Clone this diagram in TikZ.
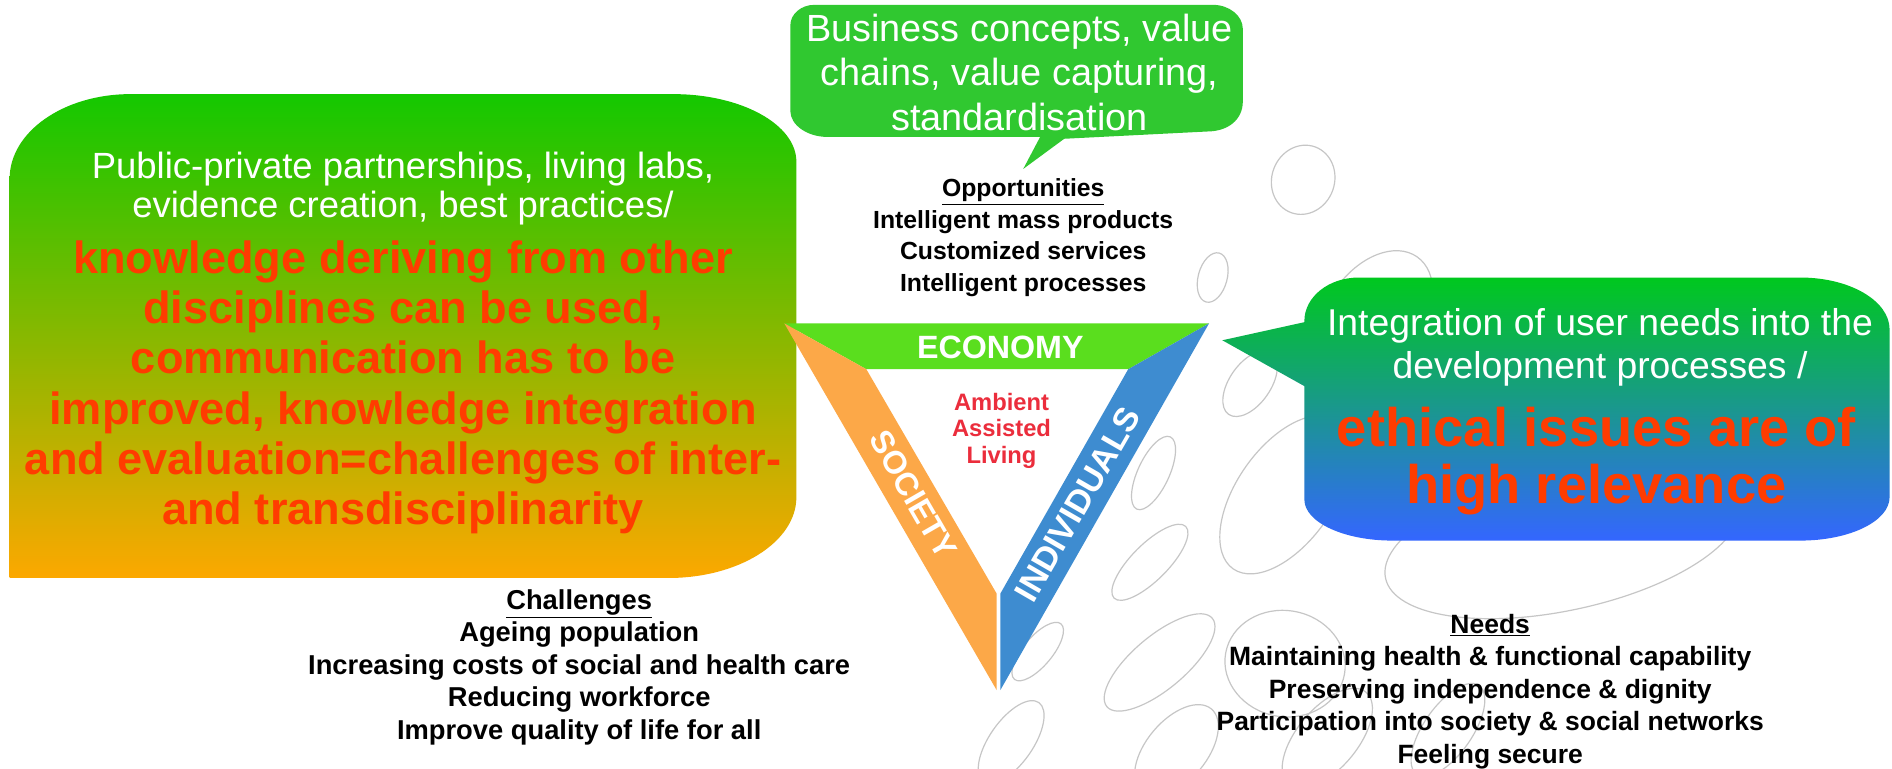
\documentclass[tikz,border=0pt]{standalone}
\usepackage{fontspec}
\setmainfont{Liberation Sans}
\definecolor{redtxt}{RGB}{255,60,0}
\definecolor{bubgrey}{RGB}{198,198,198}
\definecolor{lgTop}{RGB}{20,200,0}
\definecolor{lgMid}{RGB}{155,190,0}
\definecolor{lgBot}{RGB}{252,168,0}
\definecolor{rgTop}{RGB}{0,200,30}
\definecolor{rgMid}{RGB}{30,172,150}
\definecolor{rgBot}{RGB}{52,102,255}
\definecolor{topgreen}{RGB}{48,200,48}
\definecolor{econ}{RGB}{90,222,30}
\definecolor{soc}{RGB}{252,168,72}
\definecolor{indiv}{RGB}{62,140,208}
\definecolor{aal}{RGB}{235,45,60}
\begin{document}
\begin{tikzpicture}[x=0.025cm,y=-0.025cm,
  bub/.style={draw=bubgrey, line width=0.7pt},
  wtxt/.style={text=white, align=center, inner sep=0pt},
  rtxt/.style={text=redtxt, align=center, inner sep=0pt},
  btxt/.style={text=black, align=center, inner sep=0pt},
  bandlabel/.style={text=white, inner sep=0pt, font=\bfseries\fontsize{19}{19}\selectfont}]
\useasboundingbox (0,0) rectangle (1568,636.5);
\fill[white] (0,0) rectangle (1568,636.5);

% background bubbles
\foreach \cx/\cy/\rx/\ry/\rot in {
 1080/149/26/29/-20, 1005/230/12/21/-15, 1140/262/40/60/-35, 1036/318/17/31/-35,
 956/392/13/33/-25, 1065/410/40/75/-35, 953/466/15/42/-45, 860/540/12/30/-40,
 961/549/22/57/-50, 1065/550/50/44/-10, 1295/448/150/58/12,
 838/615/18/40/-35, 975/622/25/45/-40, 1100/612/25/50/-40, 1200/605/20/45/-35}
 \draw[bub, rotate around={\rot:(\cx,\cy)}] (\cx,\cy) ellipse [x radius=\rx, y radius=\ry];

% left callout
\shade[top color=lgTop, middle color=lgMid, bottom color=lgBot]
 (8,148) .. controls (8,109.3) and (52.8,78) .. (108,78)
 -- (558,78) .. controls (614.3,78) and (660,103.1) .. (660,134)
 -- (660,412) .. controls (660,449) and (612.5,479) .. (554,479)
 -- (8,479) -- cycle;
\node[wtxt, font=\fontsize{21.5}{23}\selectfont] (lw) at (334,156)
 {Public-private partnerships, living labs,\\evidence creation, best practices/};
\node[rtxt, font=\bfseries\fontsize{26.6}{29.6}\selectfont] (lr) at (334,321)
 {knowledge deriving from other\\disciplines can be used,\\communication has to be\\improved, knowledge integration\\and evaluation=challenges of inter-\\and transdisciplinarity};

% top callout
\fill[topgreen]
 (655,21) .. controls (655,11.6) and (664,4) .. (675,4)
 -- (1005,4) .. controls (1018.8,4) and (1030,13) .. (1030,24)
 -- (1030,84) .. controls (1030,99) and (1018,109) .. (1000,109)
 -- (882,115) -- (848,140) -- (862,113.5)
 -- (686,113.5) .. controls (668.9,113.5) and (655,103.5) .. (655,92) -- cycle;
\node[wtxt, font=\fontsize{22.3}{26}\selectfont] (tc) at (845,60)
 {Business concepts, value\\chains, value capturing,\\standardisation};

% opportunities
\node[btxt, font=\bfseries\fontsize{14.6}{18.5}\selectfont] (opp) at (848,197)
 {\underline{Opportunities}\\Intelligent mass products\\Customized services\\Intelligent processes};

% triangle
\fill[econ] (650,268) -- (1002,268) -- (935,306) -- (718,306) -- cycle;
\fill[soc] (650,268) -- (718,306) -- (826,492) -- (826,572) -- cycle;
\fill[indiv] (1002,268) -- (935,306) -- (829,492) -- (829,572) -- cycle;
\node[bandlabel] (eco) at (829,288) {ECONOMY};
\node[bandlabel, rotate=-60] (socl) at (757,410) {SOCIETY};
\node[bandlabel, rotate=60, font=\bfseries\fontsize{20}{20}\selectfont] (indl) at (893,418) {INDIVIDUALS};
\node[text=aal, align=center, inner sep=0pt, font=\bfseries\fontsize{14}{15.6}\selectfont] (aalt) at (830,357)
 {Ambient\\Assisted\\Living};

% right callout
\shade[top color=rgTop, middle color=rgMid, bottom color=rgBot]
 (1081,267) -- (1013,282) -- (1081,320)
 -- (1081,414) .. controls (1081,432.8) and (1113.7,448) .. (1154,448)
 -- (1492,448) .. controls (1533,448) and (1566,431.9) .. (1566,412)
 -- (1566,273) .. controls (1566,249.3) and (1533,230) .. (1492,230)
 -- (1126,230) .. controls (1101.1,230) and (1081,246.1) .. (1081,266) -- cycle;
\node[wtxt, font=\fontsize{22}{25.6}\selectfont] (rw) at (1326,288)
 {Integration of user needs into the\\development processes /};
\node[rtxt, font=\bfseries\fontsize{32}{33.4}\selectfont] (rr) at (1323,382)
 {ethical issues are of\\high relevance};

% challenges and needs
\node[btxt, font=\bfseries\fontsize{16.1}{19.2}\selectfont] (chal) at (480,553)
 {\underline{Challenges}\\Ageing population\\Increasing costs of social and health care\\Reducing workforce\\Improve quality of life for all};
\node[btxt, font=\bfseries\fontsize{15.6}{19.2}\selectfont] (needs) at (1235,573)
 {\underline{Needs}\\Maintaining health \& functional capability\\Preserving independence \& dignity\\Participation into society \& social networks\\Feeling secure};
\end{tikzpicture}
\end{document}
